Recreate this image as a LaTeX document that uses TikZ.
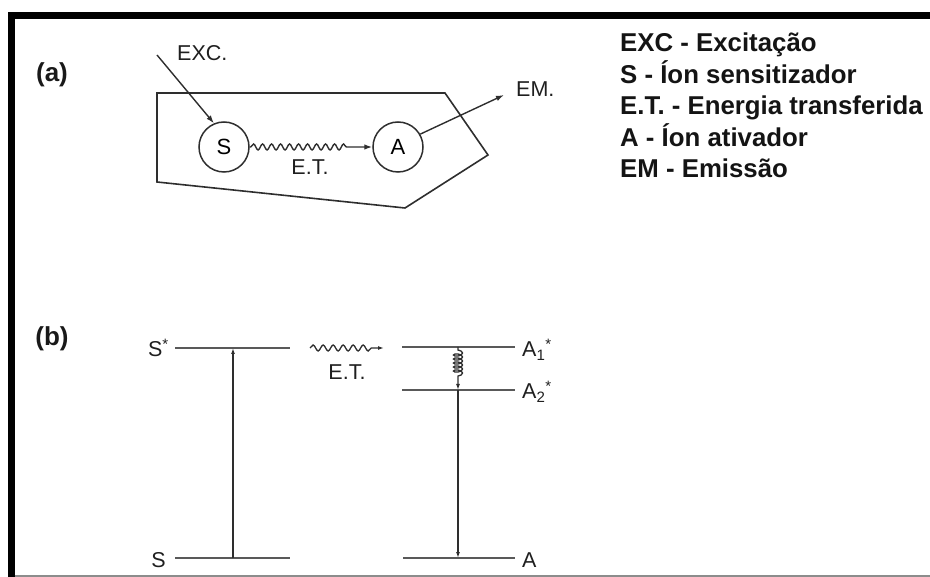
\documentclass[tikz,border=0pt]{standalone}
\usepackage{fontspec}
\setmainfont{Liberation Sans}
\usetikzlibrary{arrows.meta,decorations.pathmorphing}
\tikzset{
  lbl/.style={font=\fontsize{21.5}{23}\selectfont, inner sep=0pt, text=black!88},
  tag/.style={font=\fontsize{26}{28}\selectfont\bfseries, inner sep=0pt, text=black!90},
  leg/.style={font=\fontsize{25.8}{27}\selectfont\bfseries, inner sep=0pt, text=black!92, anchor=base west},
  ion/.style={circle, draw=black!82, line width=1.5pt, minimum size=50pt, inner sep=0pt, font=\fontsize{22}{24}\selectfont},
  arr/.style={draw=black!82, line width=1.4pt, -{Latex[length=8pt,width=5.5pt]}},
  sarr/.style={draw=black!82, line width=1.3pt, -{Latex[length=6pt,width=4pt]}},
  lvl/.style={draw=black!65, line width=1.9pt},
  frame/.style={draw=black!82, line width=1.6pt, line join=miter},
  wavy/.style={decorate, decoration={snake, segment length=9pt, amplitude=3pt, pre length=1pt, post length=22pt}},
  wavyb/.style={decorate, decoration={snake, segment length=10pt, amplitude=3pt, pre length=0pt, post length=10pt}},
  spring/.style={decorate, decoration={coil, aspect=0.45, segment length=4pt, amplitude=4.5pt, pre length=3pt, post length=13pt}}
}
\begin{document}
\begin{tikzpicture}[x=1pt,y=-1pt]
\useasboundingbox (0,0) rectangle (930,577);
% outer frame
\fill[black] (8,12) rectangle (930,19);
\fill[black] (8,12) rectangle (14.5,577);
\draw[gray!90, line width=1.5pt] (14.5,575.8) -- (930,575.8);

% ---------- (a) ----------
\node[tag, anchor=base] (taga) at (52,82) {(a)};
\draw[frame] (157,93) -- (445,93) -- (488,155) -- (405,208) -- (157,182) -- cycle;
\node[ion] (S) at (224,147) {S};
\node[ion] (A) at (398,147) {A};
\coordinate (excstart) at (157,55);
\coordinate (emend) at (504,95);
\node[lbl, anchor=base west] (exc) at (177,61) {EXC.};
\node[lbl, anchor=base west] (em) at (516,97) {EM.};
\node[lbl, anchor=base] (eta) at (310,175) {E.T.};
\draw[arr] (excstart) -- (S.113);
\draw[arr] (A.30) -- (emend);
\draw[arr, wavy] (S.east) -- (A.west);

% legend
\node[leg] (l1) at (620,52) {EXC - Excitação};
\node[leg] (l2) at (620,83.5) {S - Íon sensitizador};
\node[leg] (l3) at (620,115) {E.T. - Energia transferida};
\node[leg] (l4) at (620,146.5) {A - Íon ativador};
\node[leg] (l5) at (620,178) {EM - Emissão};

% ---------- (b) ----------
\node[tag, anchor=base] (tagb) at (52,346) {(b)};
% sensitizer levels
\coordinate (sx1) at (175,348); \coordinate (sx2) at (290,348);
\coordinate (s01) at (175,558); \coordinate (s02) at (290,558);
\draw[lvl] (sx1) -- (sx2);
\draw[lvl] (s01) -- (s02);
\node[lbl, anchor=base east] (lsx) at (169,357) {S\textsuperscript{*}};
\node[lbl, anchor=base east] (ls0) at (166,567) {S};
\coordinate (sup0) at (233,558); \coordinate (sup1) at (233,348);
\draw[sarr] (sup0) -- (sup1);
% activator levels
\coordinate (a11) at (402,347); \coordinate (a12) at (515,347);
\coordinate (a21) at (402,390); \coordinate (a22) at (515,390);
\coordinate (a01) at (403,558); \coordinate (a02) at (515,558);
\draw[lvl] (a11) -- (a12);
\draw[lvl] (a21) -- (a22);
\draw[lvl] (a01) -- (a02);
\node[lbl, anchor=base west] (la1) at (522,357) {A\textsubscript{1}\textsuperscript{*}};
\node[lbl, anchor=base west] (la2) at (522,399) {A\textsubscript{2}\textsuperscript{*}};
\node[lbl, anchor=base west] (la0) at (522,567) {A};
% energy transfer
\coordinate (etb0) at (310,348); \coordinate (etb1) at (384,348);
\draw[sarr, wavyb] (etb0) -- (etb1);
\node[lbl, anchor=base] (etb) at (347,380) {E.T.};
% relaxation and emission
\coordinate (r0) at (458,347); \coordinate (r1) at (458,390);
\coordinate (e0) at (458,390); \coordinate (e1) at (458,558);
\draw[sarr, spring] (r0) -- (r1);
\draw[sarr] (e0) -- (e1);
\end{tikzpicture}
\end{document}
